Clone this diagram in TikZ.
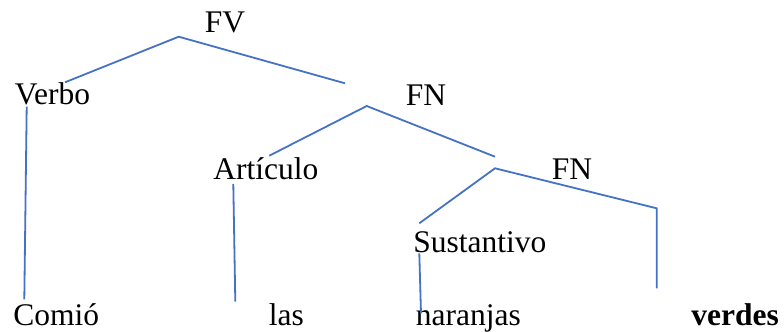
\documentclass[tikz,border=0pt]{standalone}
\usepackage{fontspec}
\setmainfont{Liberation Serif}
\begin{document}
\begin{tikzpicture}[x=0.5pt,y=-0.5pt]
	\tikzstyle{every node}+=[inner sep=0pt, anchor=base west, font=\fontsize{15.75}{18}\selectfont]
	\tikzstyle{rama}=[color={rgb,255:red,68;green,114;blue,196}, line width=0.9pt]
	\useasboundingbox (0,0) rectangle (784,332);
	% etiquetas
	\node (fv) at (204.5,32.3) {FV};
	\node (verbo) at (14.5,104.3) {Verbo};
	\node (fn1) at (405.5,105) {FN};
	\node (articulo) at (213,179) {Artículo};
	\node (fn2) at (551.5,179) {FN};
	\node (sustantivo) at (413,252) {Sustantivo};
	\node (comio) at (13,325) {Comió};
	\node (las) at (268.5,325) {las};
	\node (naranjas) at (415.5,325) {naranjas};
	\node (verdes) at (691,325) {\textbf{verdes}};
	% extremos de las ramas
	\coordinate (fvpico) at (178.7,36.7);
	\coordinate (verbopunta) at (65,82.3);
	\coordinate (fnpunta) at (345,83.3);
	\coordinate (verbopie) at (26.7,106.7);
	\coordinate (comiopunta) at (24.3,299.3);
	\coordinate (fn1pico) at (366.7,106);
	\coordinate (articulopunta) at (269.3,155.7);
	\coordinate (fn2punta) at (495,156.7);
	\coordinate (articulopie) at (233.3,184);
	\coordinate (laspunta) at (235.3,301.7);
	\coordinate (fn2pico) at (495,168.3);
	\coordinate (sustantivopunta) at (419.3,223.3);
	\coordinate (codo) at (656.7,208.3);
	\coordinate (verdespunta) at (656.7,288.3);
	\coordinate (sustantivopie) at (419.3,253.3);
	\coordinate (naranjaspunta) at (421,313.3);
	% ramas
	\draw [rama] (verbopunta) -- (fvpico) -- (fnpunta);
	\draw [rama] (verbopie) -- (comiopunta);
	\draw [rama] (articulopunta) -- (fn1pico) -- (fn2punta);
	\draw [rama] (articulopie) -- (laspunta);
	\draw [rama] (sustantivopunta) -- (fn2pico) -- (codo) -- (verdespunta);
	\draw [rama] (sustantivopie) -- (naranjaspunta);
\end{tikzpicture}
\end{document}
